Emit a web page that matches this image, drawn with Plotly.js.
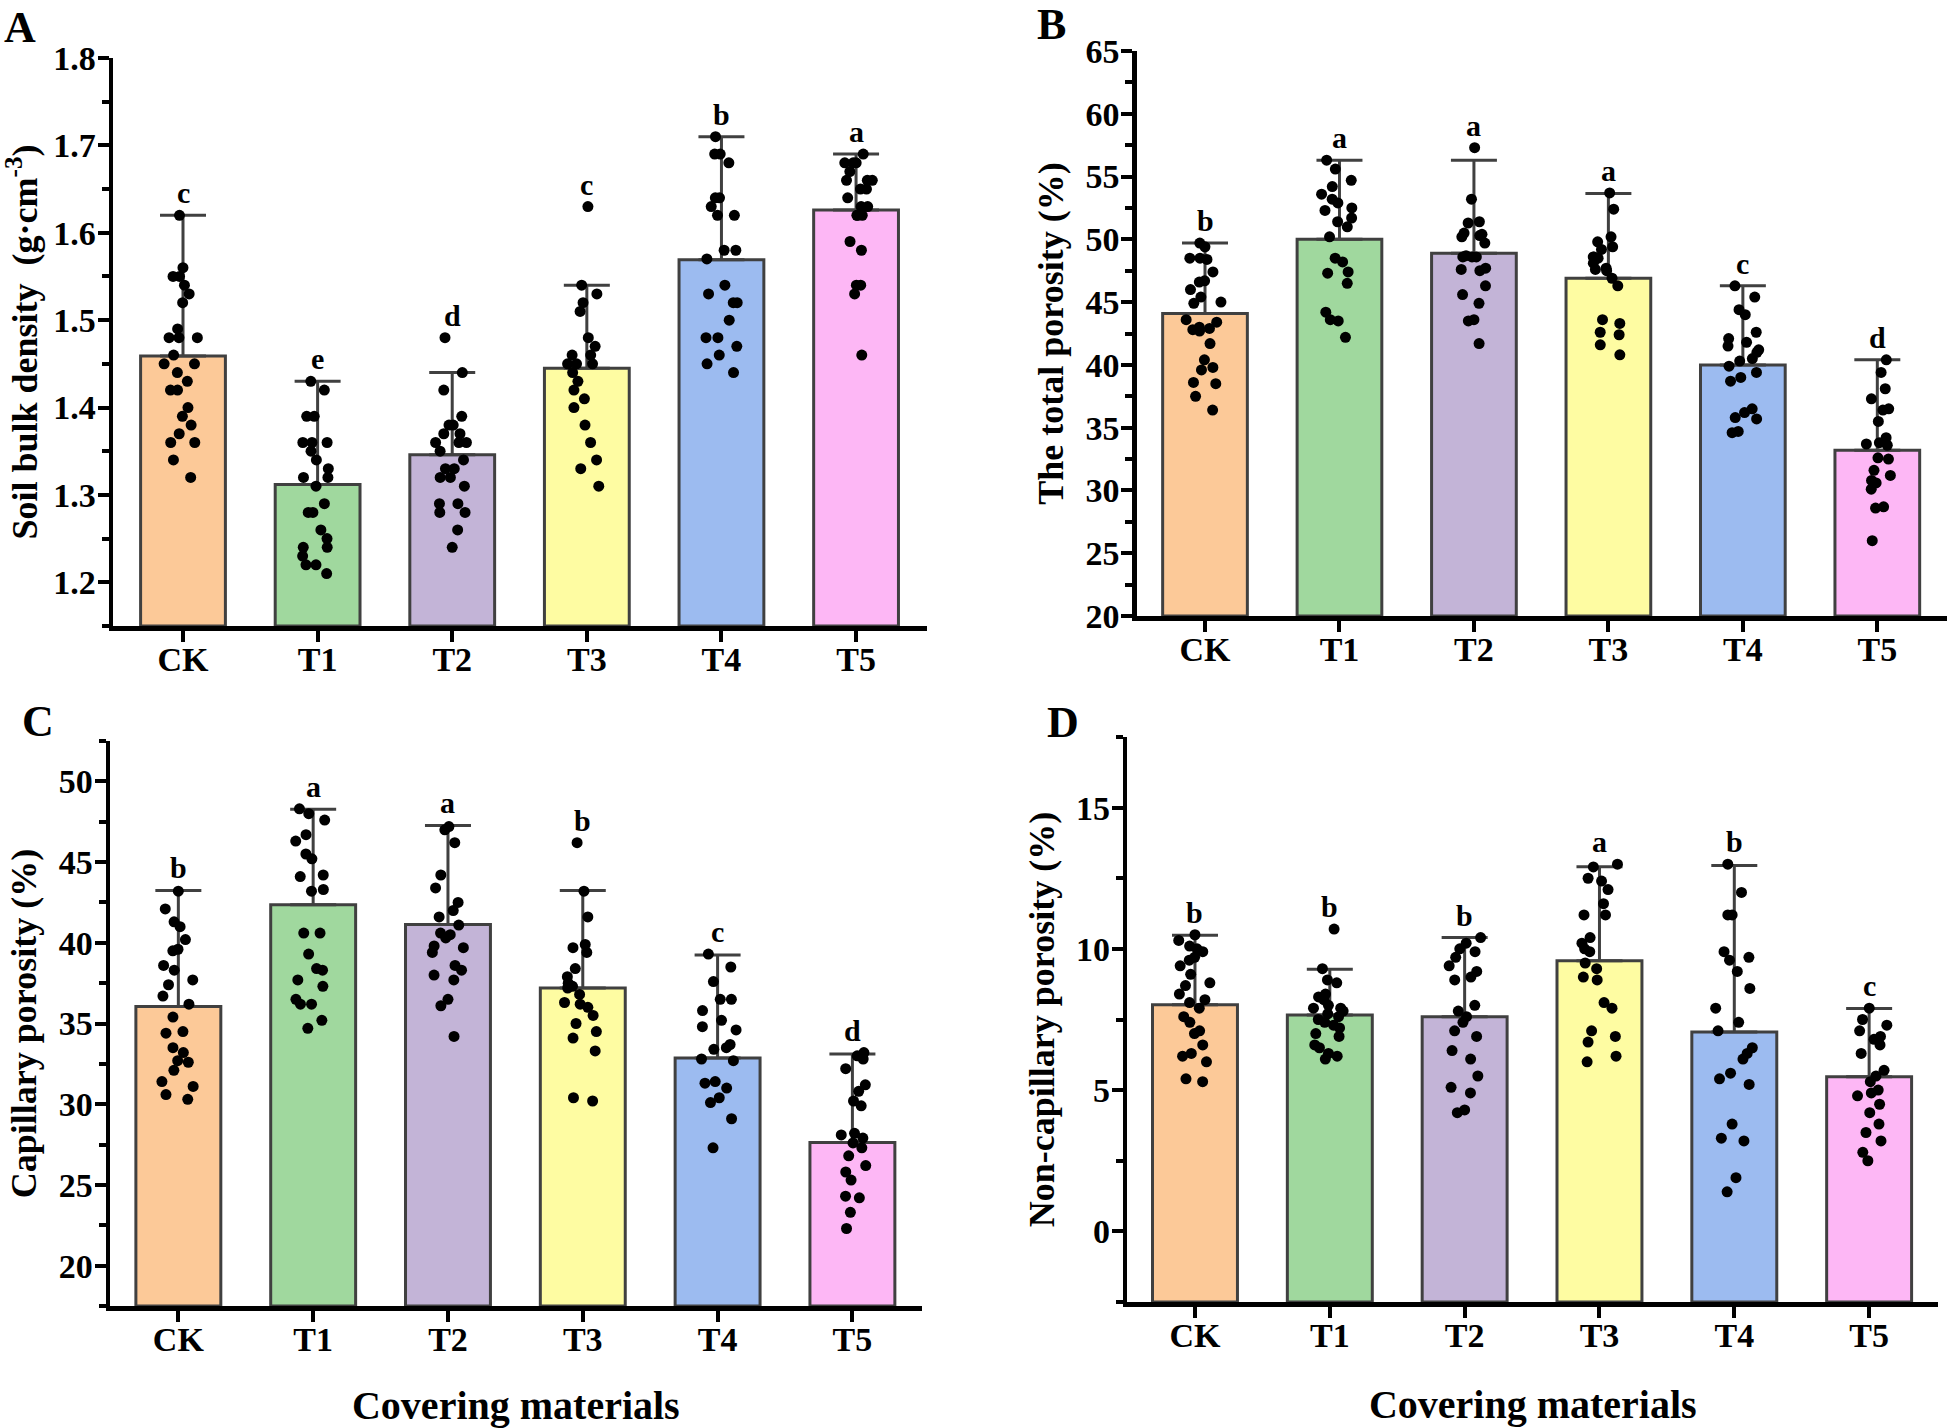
<!DOCTYPE html>
<html><head><meta charset="utf-8">
<script src="https://cdn.plot.ly/plotly-3.0.1.min.js"></script>
<style>html,body{margin:0;padding:0;background:#fff}#chart{width:1952px;height:1428px}</style>
</head><body><div id="chart"></div>
<script>
// ---------- data ----------
const categories = ['CK', 'T1', 'T2', 'T3', 'T4', 'T5'];

// A: soil bulk density (g·cm-3)
const bulkMean = [1.459, 1.312, 1.346, 1.445, 1.569, 1.626];
const bulkErr = [0.161, 0.118, 0.094, 0.095, 0.141, 0.064];
const bulkLetters = ['c', 'e', 'd', 'c', 'b', 'a'];
const bulkPoints = [
  [1.62, 1.56, 1.55, 1.55, 1.54, 1.53, 1.52, 1.49, 1.48, 1.48, 1.48, 1.46, 1.45, 1.45, 1.44, 1.43, 1.42, 1.42, 1.40, 1.39, 1.38, 1.37, 1.36, 1.36, 1.34, 1.32],
  [1.43, 1.42, 1.39, 1.39, 1.36, 1.36, 1.36, 1.35, 1.34, 1.33, 1.32, 1.32, 1.31, 1.29, 1.28, 1.28, 1.26, 1.25, 1.24, 1.24, 1.23, 1.22, 1.22, 1.21],
  [1.48, 1.44, 1.42, 1.39, 1.38, 1.38, 1.37, 1.37, 1.36, 1.36, 1.36, 1.35, 1.34, 1.33, 1.33, 1.32, 1.32, 1.31, 1.29, 1.29, 1.28, 1.28, 1.26, 1.24],
  [1.63, 1.54, 1.53, 1.52, 1.51, 1.48, 1.47, 1.46, 1.46, 1.45, 1.45, 1.45, 1.44, 1.43, 1.42, 1.41, 1.40, 1.38, 1.36, 1.34, 1.33, 1.31],
  [1.71, 1.69, 1.69, 1.68, 1.64, 1.64, 1.63, 1.62, 1.62, 1.58, 1.58, 1.57, 1.54, 1.53, 1.52, 1.52, 1.50, 1.48, 1.48, 1.47, 1.46, 1.45, 1.44],
  [1.69, 1.68, 1.68, 1.68, 1.67, 1.66, 1.66, 1.66, 1.65, 1.65, 1.64, 1.63, 1.63, 1.62, 1.62, 1.62, 1.59, 1.58, 1.54, 1.54, 1.53, 1.46]
];

// B: total porosity (%)
const totalMean = [44.1, 50.0, 48.9, 46.9, 40.0, 33.2];
const totalErr = [5.6, 6.3, 7.4, 6.75, 6.3, 7.2];
const totalLetters = ['b', 'a', 'a', 'a', 'c', 'd'];
const totalPoints = [
  [49.7, 49.4, 48.5, 48.5, 48.4, 47.4, 46.7, 46.6, 46.0, 45.4, 45.0, 44.9, 43.6, 43.4, 43.0, 42.9, 42.8, 42.7, 41.7, 40.4, 39.8, 39.6, 38.6, 38.5, 37.5, 36.4],
  [56.3, 55.6, 54.7, 54.2, 53.6, 53.2, 52.9, 52.5, 52.3, 51.7, 51.4, 51.0, 50.2, 48.5, 48.2, 47.4, 47.3, 46.5, 44.2, 43.6, 43.5, 42.2],
  [57.3, 53.2, 51.4, 51.3, 50.5, 50.4, 50.3, 50.2, 49.7, 48.7, 48.6, 48.6, 48.6, 47.7, 47.6, 47.5, 46.3, 45.6, 44.9, 43.6, 43.5, 41.7],
  [53.7, 52.4, 50.2, 49.8, 49.4, 49.2, 48.6, 48.6, 48.5, 48.1, 47.7, 47.6, 47.5, 46.9, 46.3, 43.6, 43.3, 42.6, 42.4, 41.6, 40.8],
  [46.3, 45.4, 44.4, 44.0, 42.6, 42.1, 41.8, 41.5, 41.2, 41.0, 40.5, 40.3, 39.9, 39.4, 39.0, 38.7, 36.5, 36.2, 35.8, 35.7, 34.7, 34.6],
  [40.4, 39.4, 38.1, 37.3, 36.5, 36.4, 35.5, 34.2, 33.8, 33.7, 33.6, 32.6, 32.5, 31.6, 31.2, 30.8, 30.6, 30.1, 28.7, 28.6, 26.0]
];

// C: capillary porosity (%)
const capMean = [36.05, 42.35, 41.14, 37.2, 32.86, 27.63];
const capErr = [7.19, 5.92, 6.13, 6.04, 6.38, 5.48];
const capLetters = ['b', 'a', 'a', 'b', 'c', 'd'];
const capPoints = [
  [43.2, 42.1, 41.3, 41.0, 40.2, 39.6, 39.5, 38.6, 38.3, 37.7, 37.4, 36.7, 36.2, 35.4, 34.5, 34.4, 33.5, 33.2, 32.7, 32.6, 32.1, 31.4, 31.1, 30.6, 30.3],
  [48.3, 48.0, 47.6, 46.7, 46.3, 45.5, 45.2, 44.2, 44.1, 43.3, 43.2, 40.6, 40.6, 39.3, 38.4, 38.3, 37.7, 37.3, 36.5, 36.2, 36.2, 35.2, 34.7],
  [47.2, 47.0, 46.2, 44.2, 43.4, 42.5, 42.0, 41.6, 41.1, 40.6, 40.5, 40.3, 39.8, 39.7, 39.4, 38.6, 38.3, 38.0, 37.7, 36.5, 36.1, 34.2],
  [46.2, 43.2, 41.6, 39.9, 39.7, 39.4, 38.4, 37.9, 37.5, 37.3, 37.2, 36.8, 36.3, 36.2, 36.0, 35.5, 35.0, 34.5, 34.1, 33.3, 30.4, 30.2],
  [39.3, 38.5, 37.6, 36.5, 36.5, 35.8, 35.2, 34.8, 34.6, 33.7, 33.5, 33.4, 32.8, 32.7, 31.4, 31.3, 31.0, 30.4, 30.1, 29.1, 27.3],
  [33.2, 33.0, 32.8, 32.2, 31.2, 30.8, 30.2, 29.9, 28.2, 28.1, 27.9, 27.6, 27.3, 26.8, 26.2, 25.8, 25.3, 24.3, 24.2, 23.3, 22.3]
];

// D: non-capillary porosity (%)
const nonMean = [8.02, 7.66, 7.6, 9.58, 7.06, 5.47];
const nonErr = [2.46, 1.62, 2.8, 3.33, 5.89, 2.42];
const nonLetters = ['b', 'b', 'b', 'a', 'b', 'c'];
const nonPoints = [
  [10.5, 10.3, 10.1, 10.0, 9.9, 9.7, 9.6, 9.4, 9.1, 8.8, 8.7, 8.4, 8.2, 8.1, 7.9, 7.6, 7.4, 7.1, 7.0, 6.6, 6.3, 6.2, 6.0, 5.4, 5.3],
  [10.7, 9.3, 8.9, 8.8, 8.4, 8.3, 8.2, 8.0, 7.9, 7.9, 7.8, 7.7, 7.6, 7.5, 7.4, 7.3, 7.2, 7.0, 6.9, 6.6, 6.5, 6.3, 6.2, 6.1],
  [10.4, 10.2, 10.0, 9.9, 9.7, 9.4, 9.2, 9.0, 8.9, 8.0, 7.8, 7.6, 7.4, 7.1, 6.9, 6.4, 6.1, 5.5, 5.1, 4.9, 4.3, 4.2],
  [13.0, 12.9, 12.5, 12.4, 12.1, 11.6, 11.2, 11.2, 10.4, 10.2, 10.0, 9.9, 9.5, 9.3, 9.0, 8.9, 8.1, 7.9, 7.1, 6.9, 6.7, 6.2, 6.0],
  [13.0, 12.0, 11.2, 11.2, 9.9, 9.7, 9.6, 9.2, 8.6, 7.9, 7.4, 7.1, 6.5, 6.3, 6.1, 5.6, 5.4, 5.2, 3.8, 3.3, 3.2, 1.9, 1.4],
  [7.9, 7.5, 7.3, 7.1, 6.9, 6.8, 6.6, 6.3, 5.7, 5.5, 5.3, 5.0, 4.9, 4.8, 4.5, 4.2, 3.8, 3.5, 3.2, 2.8, 2.5]
];

// ---------- styling ----------
const barColors = ['#FCC998', '#A0D89E', '#C3B4D7', '#FEFCA2', '#9CBBF0', '#FDB7F5'];
const FONT = 'Liberation Serif, Times New Roman, serif';
const EDGE = '#404040';

const panels = [
  {label: 'A', means: bulkMean, errs: bulkErr, pts: bulkPoints, letters: bulkLetters,
   title: 'Soil bulk density\u00a0\u00a0(g·cm<sup>-3</sup>)', yrange: [1.15, 1.8], tick0: 1.2, dtick: 0.1, minor: 0.05, fmt: '.1f',
   xdom: [113, 927], ydom: [58, 626], xrange: [-0.52, 5.527], lab: [2, 27], xtitle: null},
  {label: 'B', means: totalMean, errs: totalErr, pts: totalPoints, letters: totalLetters,
   title: 'The total porosity (%)', yrange: [20, 65], tick0: 20, dtick: 5, minor: 2.5, fmt: '',
   xdom: [1136.7, 1946.7], ydom: [51, 616], xrange: [-0.508, 5.516], lab: [1035, 24], xtitle: null},
  {label: 'C', means: capMean, errs: capErr, pts: capPoints, letters: capLetters,
   title: 'Capillary porosity (%)', yrange: [17.5, 52.5], tick0: 20, dtick: 5, minor: 2.5, fmt: '',
   xdom: [110, 921.7], ydom: [741, 1306], xrange: [-0.507, 5.514], lab: [20, 721], xtitle: 'Covering materials'},
  {label: 'D', means: nonMean, errs: nonErr, pts: nonPoints, letters: nonLetters,
   title: 'Non-capillary porosity (%)', yrange: [-2.5, 17.5], tick0: 0, dtick: 5, minor: 2.5, fmt: '',
   xdom: [1127.3, 1938.3], ydom: [737, 1302], xrange: [-0.502, 5.513], lab: [1045, 722], xtitle: 'Covering materials'}
];

const W = 1952, H = 1428;
const traces = [];
const layout = {
  width: W, height: H, margin: {l: 0, r: 0, t: 0, b: 0},
  paper_bgcolor: '#fff', plot_bgcolor: '#fff', showlegend: false,
  barmode: 'group', annotations: [], font: {family: FONT, color: '#000'}
};

panels.forEach((p, i) => {
  const sfx = i === 0 ? '' : String(i + 1);
  const xa = 'x' + sfx, ya = 'y' + sfx;
  const base = p.yrange[0];   // bars rise from the bottom of the axis, as in the original

  traces.push({
    type: 'bar', x: categories, y: p.means.map(m => m - base), base: base,
    xaxis: xa, yaxis: ya, width: 0.63,
    marker: {color: barColors, line: {color: EDGE, width: 3}},
    error_y: {type: 'data', symmetric: false, array: p.errs, arrayminus: p.errs.map(() => 0),
              color: EDGE, thickness: 3, width: 23},
    hoverinfo: 'skip'
  });

  const bx = [], by = [];
  p.pts.forEach((arr, j) => arr.forEach(v => { bx.push(categories[j]); by.push(v); }));
  traces.push({
    type: 'box', x: bx, y: by, xaxis: xa, yaxis: ya,
    boxpoints: 'all', jitter: 0.9, pointpos: 0, width: 0.32,
    fillcolor: 'rgba(0,0,0,0)', line: {color: 'rgba(0,0,0,0)', width: 0},
    marker: {color: '#000', size: 11, line: {width: 0}}, hoverinfo: 'skip'
  });

  const tickfont = {family: FONT, size: 34, weight: 'bold', color: '#000'};
  const xaxis = {
    type: 'category', domain: [p.xdom[0] / W, p.xdom[1] / W], anchor: ya, range: p.xrange,
    showline: true, linewidth: 4.5, linecolor: '#000', ticks: 'outside', ticklen: 11, tickwidth: 4,
    tickcolor: '#000', showgrid: false, zeroline: false, tickfont: tickfont, ticklabelstandoff: -11
  };
  if (p.xtitle) {
    xaxis.title = {text: p.xtitle, font: {family: FONT, size: 40, weight: 'bold', color: '#000'}, standoff: 38};
  }
  layout['xaxis' + sfx] = xaxis;
  layout['yaxis' + sfx] = {
    domain: [1 - p.ydom[1] / H, 1 - p.ydom[0] / H], anchor: xa, range: p.yrange,
    tick0: p.tick0, dtick: p.dtick, tickformat: p.fmt,
    showline: true, linewidth: 4.5, linecolor: '#000', ticks: 'outside', ticklen: 11, tickwidth: 4,
    tickcolor: '#000', showgrid: false, zeroline: false, tickfont: tickfont, ticklabelstandoff: -5,
    minor: {dtick: p.minor, tick0: p.tick0, ticks: 'outside', ticklen: 7, tickwidth: 4, tickcolor: '#000', showgrid: false},
    title: {text: p.title, font: {family: FONT, size: 36, weight: 'bold', color: '#000'}, standoff: 12}
  };

  // significance letters above the highest of error cap / data points
  categories.forEach((c, j) => {
    const top = Math.max(p.means[j] + p.errs[j], Math.max(...p.pts[j]));
    layout.annotations.push({
      xref: xa, yref: ya, x: c, y: top, text: p.letters[j], showarrow: false,
      yanchor: 'bottom', yshift: 4,
      font: {family: FONT, size: 30, weight: 'bold', color: '#000'}
    });
  });

  // panel letter
  layout.annotations.push({
    xref: 'paper', yref: 'paper', x: p.lab[0] / W, y: 1 - p.lab[1] / H, xanchor: 'left', yanchor: 'middle',
    text: p.label, showarrow: false, font: {family: FONT, size: 44, weight: 'bold', color: '#000'}
  });
});

Plotly.newPlot('chart', traces, layout, {displayModeBar: false, staticPlot: true});
</script>
</body></html>
